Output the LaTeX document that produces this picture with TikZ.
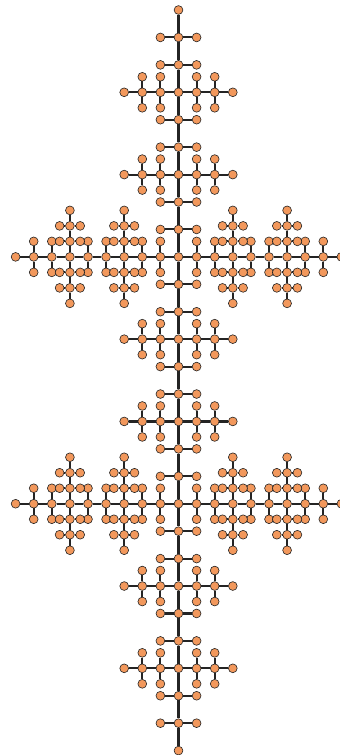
\documentclass[tikz,border=0pt]{standalone}
\usepackage{tikz}

\definecolor{nodeorange}{RGB}{242,152,92}
\definecolor{linkgray}{RGB}{36,36,36}
\tikzset{
  vert/.style={circle, draw=linkgray, fill=nodeorange, line width=0.6pt, inner sep=0pt, minimum size=8.8pt},
  link/.style={draw=linkgray, line width=2.1pt},
}
\newcommand{\mainx}{178.5}
\newcommand{\stepy}{27.43}
\newcommand{\stepx}{18.1}
\newcommand{\subh}{15.5}
\newcommand{\leafx}{10.3}

\begin{document}
\begin{tikzpicture}[x=1pt, y=-1pt]
    \useasboundingbox (0,0) rectangle (340,755);

    % Draw main axis
    \foreach \i in {0,...,27} {
        \node[vert] (m\i) at (\mainx, 10+\stepy*\i) {};
    }
    \foreach \i [count=\j from 1] in {0,...,26} {
        \draw[link] (m\i) -- (m\j);
    }

    % Leaves of the main axis
    \foreach \i in {1,2,4,5,7,8,10,11,13,14,16,17,19,20,22,23,25,26} {
        \node[vert] (ml\i) at (\mainx-\stepx, 10+\stepy*\i) {};
        \node[vert] (mr\i) at (\mainx+\stepx, 10+\stepy*\i) {};
        \draw[link] (ml\i) -- (m\i) -- (mr\i);
    }

    % Small crosses
    \foreach \i in {3,6,12,15,21,24} {
        \foreach \s/\n in {-1/l,1/r} {
            \foreach \j in {1,2,3} {
                \node[vert] (h\n\i-\j) at (\mainx+\s*\stepx*\j, 10+\stepy*\i) {};
            }
            \draw[link] (m\i) -- (h\n\i-1) -- (h\n\i-2) -- (h\n\i-3);
            \foreach \j in {1,2} {
                \node[vert] (h\n\i-\j-u) at (\mainx+\s*\stepx*\j, 10+\stepy*\i-\subh) {};
                \node[vert] (h\n\i-\j-d) at (\mainx+\s*\stepx*\j, 10+\stepy*\i+\subh) {};
                \draw[link] (h\n\i-\j-u) -- (h\n\i-\j) -- (h\n\i-\j-d);
            }
        }
    }

    % Big crosses
    \foreach \i in {9,18} {
        \foreach \s/\n in {-1/l,1/r} {
            \foreach \j in {1,...,9} {
                \node[vert] (h\n\i-\j) at (\mainx+\s*\stepx*\j, 10+\stepy*\i) {};
            }
            \draw[link] (m\i) -- (h\n\i-1);
            \foreach \j [count=\k from 2] in {1,...,8} {
                \draw[link] (h\n\i-\j) -- (h\n\i-\k);
            }
            % leaves
            \foreach \j in {1,2,4,5,7,8} {
                \node[vert] (h\n\i-\j-u) at (\mainx+\s*\stepx*\j, 10+\stepy*\i-\subh) {};
                \node[vert] (h\n\i-\j-d) at (\mainx+\s*\stepx*\j, 10+\stepy*\i+\subh) {};
                \draw[link] (h\n\i-\j-u) -- (h\n\i-\j) -- (h\n\i-\j-d);
            }
            % vertical sub-arms
            \foreach \j in {3,6} {
                \foreach \t/\v in {-1/u,1/d} {
                    \foreach \k in {1,2,3} {
                        \node[vert] (s\n\i-\j\v\k) at (\mainx+\s*\stepx*\j, 10+\stepy*\i+\t*\subh*\k) {};
                    }
                    \draw[link] (h\n\i-\j) -- (s\n\i-\j\v1) -- (s\n\i-\j\v2) -- (s\n\i-\j\v3);
                    \foreach \k in {1,2} {
                        \node[vert] (s\n\i-\j\v\k-l) at (\mainx+\s*\stepx*\j-\leafx, 10+\stepy*\i+\t*\subh*\k) {};
                        \node[vert] (s\n\i-\j\v\k-r) at (\mainx+\s*\stepx*\j+\leafx, 10+\stepy*\i+\t*\subh*\k) {};
                        \draw[link] (s\n\i-\j\v\k-l) -- (s\n\i-\j\v\k) -- (s\n\i-\j\v\k-r);
                    }
                }
            }
        }
    }
\end{tikzpicture}
\end{document}
